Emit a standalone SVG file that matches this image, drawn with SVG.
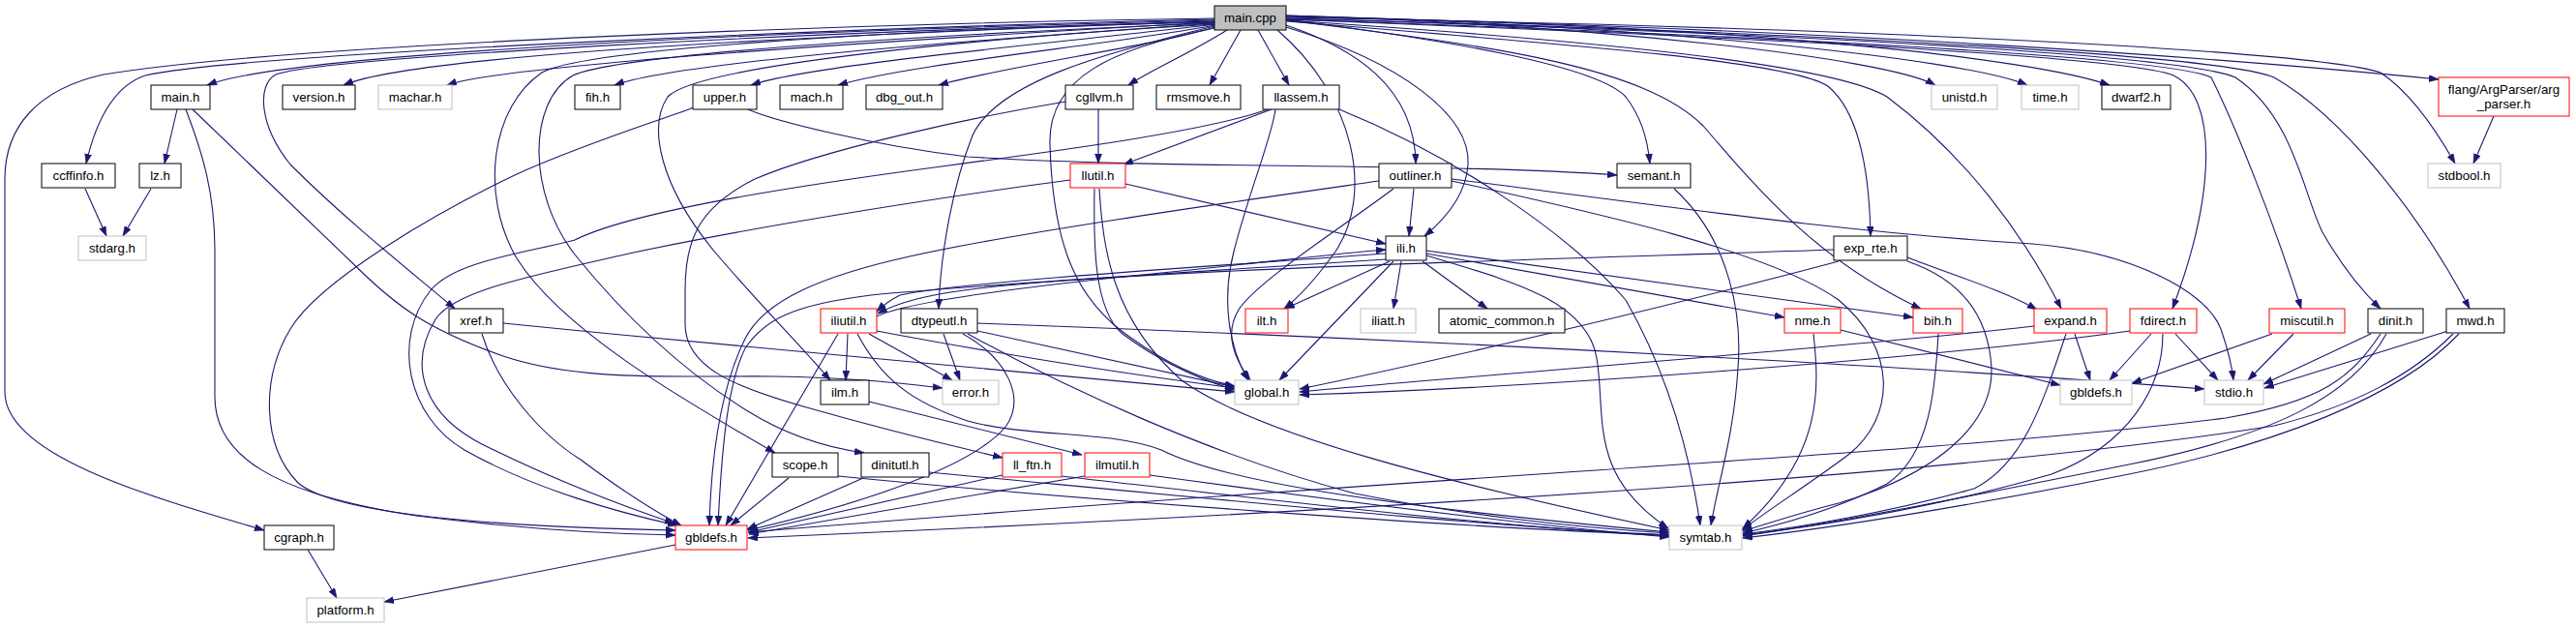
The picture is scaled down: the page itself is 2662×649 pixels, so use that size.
<svg xmlns="http://www.w3.org/2000/svg" width="2662" height="649" viewBox="0 0 2662 649">
<style>
.e{fill:none;stroke:#191970;stroke-width:1.1;marker-end:url(#ah)}
.n rect{fill:#ffffff;stroke:#000000;stroke-width:1}
.n.g rect{stroke:#bfbfbf}
.n.r rect{stroke:#ff0000}
.n.root rect{fill:#bfbfbf}
.n text{font-family:"Liberation Sans",Arial,sans-serif;font-size:13.3px;text-anchor:middle;fill:#000000}
</style>
<defs>
<marker id="ah" markerUnits="userSpaceOnUse" markerWidth="11" markerHeight="8" refX="10" refY="3.5" orient="auto">
<path d="M0,0 L10,3.5 L0,7 z" fill="#191970" stroke="#191970" stroke-width="0.6"/>
</marker>
</defs>
<rect x="0" y="0" width="2662" height="649" fill="#ffffff"/>
<g id="edges">
<path class="e" d="M1255,19 C900,24 300,45 107,77 C40,92 5,130 5,185 L5,405 C5,470 150,512 273,548"/>
<path class="e" d="M1255,20 C900,28 250,55 150,78 C115,90 98,130 89,169"/>
<path class="e" d="M1255,21 C800,32 300,55 214,88"/>
<path class="e" d="M1255,22 C800,34 330,60 285,77 C265,88 268,130 300,170 C360,230 430,285 470,319"/>
<path class="e" d="M1255,22 C850,36 430,56 355,88"/>
<path class="e" d="M1255,23 C950,40 520,66 462,88"/>
<path class="e" d="M1255,24 C1000,42 700,64 635,88"/>
<path class="e" d="M1256,25 C1100,44 840,66 776,88"/>
<path class="e" d="M1256,26 C1150,46 940,66 866,88"/>
<path class="e" d="M1256,28 C1190,48 1040,68 970,88"/>
<path class="e" d="M1268,31 C1230,55 1190,72 1166,88"/>
<path class="e" d="M1282,31 L1250,88"/>
<path class="e" d="M1300,31 L1332,88"/>
<path class="e" d="M1329,26 C1400,50 1462,90 1463,169"/>
<path class="e" d="M1329,28 C1450,65 1520,120 1517,170 C1515,200 1495,225 1472,244"/>
<path class="e" d="M1320,31 C1400,100 1420,200 1380,260 C1362,285 1345,305 1327,319"/>
<path class="e" d="M1255,29 C1150,50 1082,80 1085,150 C1088,250 1110,310 1170,350 C1205,375 1240,392 1276,399"/>
<path class="e" d="M1255,27 C1140,55 1030,85 1005,140 C985,190 972,260 970,319"/>
<path class="e" d="M1255,25 C1000,40 720,68 690,100 C670,130 680,190 740,262 C790,320 830,360 858,393"/>
<path class="e" d="M1255,23 C900,31 600,52 560,75 C508,110 495,200 534,267 C580,340 700,410 801,468"/>
<path class="e" d="M1255,24 C950,36 640,56 592,78 C545,105 545,200 594,263 C640,320 700,380 773,425 C810,448 850,462 893,468"/>
<path class="e" d="M1329,20 C1500,42 1650,68 1680,100 C1695,120 1702,140 1705,169"/>
<path class="e" d="M1329,21 C1550,48 1700,70 1760,130 C1820,200 1880,270 1985,319"/>
<path class="e" d="M1329,22 C1650,48 1860,65 1890,90 C1925,120 1932,190 1933,244"/>
<path class="e" d="M1329,21 C1700,45 1900,70 1950,100 C2030,160 2090,240 2130,319"/>
<path class="e" d="M1329,20 C1800,38 2200,58 2246,78 C2292,100 2290,200 2245,319"/>
<path class="e" d="M1329,20 C1800,36 2240,58 2285,80 C2310,130 2350,230 2378,319"/>
<path class="e" d="M1329,19 C1900,36 2260,58 2310,80 C2370,120 2380,200 2400,240 C2420,275 2440,300 2460,319"/>
<path class="e" d="M1329,19 C1900,34 2300,58 2350,80 C2420,120 2500,220 2552,319"/>
<path class="e" d="M1329,18 C2000,30 2400,55 2460,75 C2490,95 2515,130 2537,169"/>
<path class="e" d="M1329,17 C1900,30 2300,60 2520,82"/>
<path class="e" d="M1329,17 C1800,26 2100,60 2180,88"/>
<path class="e" d="M1329,16 C1700,26 2030,60 2095,88"/>
<path class="e" d="M1329,16 C1650,26 1950,60 2000,88"/>
<path class="e" d="M183,113 L170,169"/>
<path class="e" d="M192,113 C210,160 222,200 222,260 L222,410 C222,470 280,510 430,533 C550,548 640,552 698,553"/>
<path class="e" d="M199,113 L380,287 C410,315 440,340 520,368 C600,395 700,388 800,389 C880,390 930,396 974,401"/>
<path class="e" d="M88,195 L110,244"/>
<path class="e" d="M156,195 L127,244"/>
<path class="e" d="M717,111 C680,125 600,150 534,180 C450,220 330,290 300,340 C270,390 270,460 308,499 C350,535 550,545 698,548"/>
<path class="e" d="M773,113 C800,125 900,150 1000,162 C1200,175 1500,168 1671,181"/>
<path class="e" d="M1135,113 L1135,169"/>
<path class="e" d="M1101,105 C1000,122 850,155 780,185 C720,215 708,250 708,300 L708,335 C708,380 760,400 830,420 C900,440 980,460 1036,473"/>
<path class="e" d="M1314,113 L1161,170"/>
<path class="e" d="M1310,113 C1250,135 1100,155 973,172 C800,195 650,220 594,248 C540,262 470,270 445,300 C405,350 420,430 480,465 C550,505 640,530 700,543"/>
<path class="e" d="M1318,113 C1315,140 1290,200 1275,260 C1262,310 1270,360 1290,393"/>
<path class="e" d="M1384,113 C1500,160 1620,240 1680,310 C1720,380 1745,460 1757,543"/>
<path class="e" d="M1163,190 L1432,252"/>
<path class="e" d="M1106,186 C1000,200 800,230 650,262 C550,285 470,300 450,330 C420,380 440,430 500,460 C570,495 650,525 697,541"/>
<path class="e" d="M1131,195 C1130,250 1130,320 1160,345 C1200,375 1240,392 1276,403"/>
<path class="e" d="M1136,195 C1140,260 1150,330 1221,393 C1300,450 1500,500 1725,548"/>
<path class="e" d="M1461,195 L1456,244"/>
<path class="e" d="M1425,187 C1300,205 1050,240 940,265 C850,285 790,310 770,350 C745,400 735,470 733,543"/>
<path class="e" d="M1440,195 C1380,240 1300,290 1280,320 C1265,345 1275,370 1292,393"/>
<path class="e" d="M1500,187 C1650,220 1830,260 1900,310 C1960,360 1960,430 1910,470 C1870,500 1830,525 1800,548"/>
<path class="e" d="M1500,185 C1700,210 1900,240 2100,252 C2200,260 2280,300 2295,340 C2302,360 2306,375 2308,393"/>
<path class="e" d="M1730,195 C1790,250 1800,330 1796,380 C1792,450 1775,500 1768,543"/>
<path class="e" d="M1448,270 L1440,319"/>
<path class="e" d="M1470,270 L1537,319"/>
<path class="e" d="M1436,270 L1328,319"/>
<path class="e" d="M1440,270 L1322,393"/>
<path class="e" d="M1432,262 C1300,272 1000,290 930,305 C920,310 912,316 906,322"/>
<path class="e" d="M906,327 C940,310 1100,292 1200,282 C1300,272 1380,262 1432,258"/>
<path class="e" d="M1895,258 C1700,265 1300,275 1100,290 C990,298 940,306 907,324"/>
<path class="e" d="M1432,268 C1250,280 1000,295 900,305 C820,315 790,330 770,360 C750,400 745,480 742,543"/>
<path class="e" d="M1474,262 L1844,328"/>
<path class="e" d="M1474,259 L1977,328"/>
<path class="e" d="M1474,264 C1560,290 1640,310 1650,370 C1660,430 1640,490 1724,546"/>
<path class="e" d="M1900,270 C1750,310 1500,370 1343,402"/>
<path class="e" d="M1971,266 C2020,285 2070,300 2105,320"/>
<path class="e" d="M1971,270 C2030,290 2055,330 2058,380 C2060,440 2000,490 1900,520 C1860,530 1830,540 1801,549"/>
<path class="e" d="M1874,345 C1880,400 1885,470 1801,546"/>
<path class="e" d="M1902,341 L2129,398"/>
<path class="e" d="M2003,345 C2000,400 1995,470 1950,500 C1900,525 1850,540 1801,551"/>
<path class="e" d="M2144,345 L2160,393"/>
<path class="e" d="M2102,337 C1900,360 1500,390 1343,405"/>
<path class="e" d="M2135,345 C2110,420 2090,480 2040,505 C1950,530 1860,545 1801,552"/>
<path class="e" d="M2223,345 L2180,393"/>
<path class="e" d="M2248,345 L2292,393"/>
<path class="e" d="M2201,342 C2000,370 1600,400 1343,408"/>
<path class="e" d="M2235,345 C2235,400 2200,460 2120,490 C2000,525 1870,545 1801,553"/>
<path class="e" d="M2348,345 L2203,396"/>
<path class="e" d="M2370,345 L2323,393"/>
<path class="e" d="M2450,345 L2339,397"/>
<path class="e" d="M2530,342 L2340,401"/>
<path class="e" d="M2460,345 C2430,390 2400,415 2300,432 C2000,470 1500,490 773,550"/>
<path class="e" d="M2535,345 C2490,390 2430,420 2350,440 C2100,480 1600,520 773,556"/>
<path class="e" d="M2466,345 C2430,410 2350,450 2200,480 C2050,510 1900,540 1801,554"/>
<path class="e" d="M2541,345 C2480,410 2350,460 2200,490 C2050,520 1900,545 1801,556"/>
<path class="e" d="M2577,120 L2556,169"/>
<path class="e" d="M318,568 L348,618"/>
<path class="e" d="M698,563 L397,622"/>
<path class="e" d="M520,334 C800,362 1100,390 1276,405"/>
<path class="e" d="M498,345 C515,400 560,450 600,475 C640,505 670,525 704,543"/>
<path class="e" d="M876,345 L874,393"/>
<path class="e" d="M898,345 L984,393"/>
<path class="e" d="M906,342 C1000,360 1150,385 1276,401"/>
<path class="e" d="M866,345 L750,543"/>
<path class="e" d="M886,345 C910,390 940,415 1000,435 C1060,452 1150,445 1200,465 C1260,495 1400,520 1725,550"/>
<path class="e" d="M975,345 L992,393"/>
<path class="e" d="M1010,342 L1276,400"/>
<path class="e" d="M1010,334 C1500,352 2000,380 2278,402"/>
<path class="e" d="M995,345 C1040,370 1060,410 1040,440 C1000,490 850,530 773,548"/>
<path class="e" d="M1000,345 C1100,400 1250,470 1400,510 C1500,530 1620,545 1725,551"/>
<path class="e" d="M898,415 L1118,470"/>
<path class="e" d="M815,494 L755,543"/>
<path class="e" d="M866,492 C1100,515 1500,545 1725,553"/>
<path class="e" d="M892,494 L772,547"/>
<path class="e" d="M960,488 C1300,520 1550,545 1725,553"/>
<path class="e" d="M1036,491 L774,550"/>
<path class="e" d="M1096,492 C1300,515 1550,545 1725,554"/>
<path class="e" d="M1121,492 L774,552"/>
<path class="e" d="M1188,491 C1400,520 1600,545 1725,555"/>
</g>
<g id="main_cpp" class="n root"><rect x="1255" y="6" width="74" height="25"/><text x="1292" y="23">main.cpp</text></g>
<g id="main_h" class="n"><rect x="156" y="88" width="61" height="25"/><text x="186.5" y="105">main.h</text></g>
<g id="version_h" class="n"><rect x="292" y="88" width="75" height="25"/><text x="329.5" y="105">version.h</text></g>
<g id="machar_h" class="n g"><rect x="391" y="88" width="76" height="25"/><text x="429" y="105">machar.h</text></g>
<g id="fih_h" class="n"><rect x="594" y="88" width="47" height="25"/><text x="617.5" y="105">fih.h</text></g>
<g id="upper_h" class="n"><rect x="716" y="88" width="66" height="25"/><text x="749" y="105">upper.h</text></g>
<g id="mach_h" class="n"><rect x="806" y="88" width="65" height="25"/><text x="838.5" y="105">mach.h</text></g>
<g id="dbg_out_h" class="n"><rect x="895" y="88" width="79" height="25"/><text x="934.5" y="105">dbg_out.h</text></g>
<g id="cgllvm_h" class="n"><rect x="1101" y="88" width="70" height="25"/><text x="1136" y="105">cgllvm.h</text></g>
<g id="rmsmove_h" class="n"><rect x="1195" y="88" width="87" height="25"/><text x="1238.5" y="105">rmsmove.h</text></g>
<g id="llassem_h" class="n"><rect x="1305" y="88" width="79" height="25"/><text x="1344.5" y="105">llassem.h</text></g>
<g id="unistd_h" class="n g"><rect x="1996" y="88" width="68" height="25"/><text x="2030" y="105">unistd.h</text></g>
<g id="time_h" class="n g"><rect x="2089" y="88" width="59" height="25"/><text x="2118.5" y="105">time.h</text></g>
<g id="dwarf2_h" class="n"><rect x="2172" y="88" width="71" height="25"/><text x="2207.5" y="105">dwarf2.h</text></g>
<g id="arg_parser_h" class="n r"><rect x="2520" y="80" width="135" height="40"/><text x="2587.5" y="97">flang/ArgParser/arg</text><text x="2587.5" y="112">_parser.h</text></g>
<g id="ccffinfo_h" class="n"><rect x="43" y="169" width="76" height="25"/><text x="81" y="186">ccffinfo.h</text></g>
<g id="lz_h" class="n"><rect x="144" y="169" width="43" height="25"/><text x="165.5" y="186">lz.h</text></g>
<g id="llutil_h" class="n r"><rect x="1106" y="169" width="57" height="25"/><text x="1134.5" y="186">llutil.h</text></g>
<g id="outliner_h" class="n"><rect x="1425" y="169" width="75" height="25"/><text x="1462.5" y="186">outliner.h</text></g>
<g id="semant_h" class="n"><rect x="1671" y="169" width="76" height="25"/><text x="1709" y="186">semant.h</text></g>
<g id="stdbool_h" class="n g"><rect x="2509" y="169" width="75" height="25"/><text x="2546.5" y="186">stdbool.h</text></g>
<g id="stdarg_h" class="n g"><rect x="81" y="244" width="70" height="25"/><text x="116" y="261">stdarg.h</text></g>
<g id="ili_h" class="n"><rect x="1432" y="244" width="42" height="25"/><text x="1453" y="261">ili.h</text></g>
<g id="exp_rte_h" class="n"><rect x="1895" y="244" width="76" height="25"/><text x="1933" y="261">exp_rte.h</text></g>
<g id="xref_h" class="n"><rect x="464" y="319" width="56" height="25"/><text x="492" y="336">xref.h</text></g>
<g id="iliutil_h" class="n r"><rect x="848" y="319" width="58" height="25"/><text x="877" y="336">iliutil.h</text></g>
<g id="dtypeutl_h" class="n"><rect x="931" y="319" width="79" height="25"/><text x="970.5" y="336">dtypeutl.h</text></g>
<g id="ilt_h" class="n r"><rect x="1287" y="319" width="44" height="25"/><text x="1309" y="336">ilt.h</text></g>
<g id="iliatt_h" class="n g"><rect x="1406" y="319" width="57" height="25"/><text x="1434.5" y="336">iliatt.h</text></g>
<g id="atomic_common_h" class="n"><rect x="1487" y="319" width="130" height="25"/><text x="1552" y="336">atomic_common.h</text></g>
<g id="nme_h" class="n r"><rect x="1844" y="319" width="58" height="25"/><text x="1873" y="336">nme.h</text></g>
<g id="bih_h" class="n r"><rect x="1977" y="319" width="51" height="25"/><text x="2002.5" y="336">bih.h</text></g>
<g id="expand_h" class="n r"><rect x="2102" y="319" width="75" height="25"/><text x="2139.5" y="336">expand.h</text></g>
<g id="fdirect_h" class="n r"><rect x="2201" y="319" width="69" height="25"/><text x="2235.5" y="336">fdirect.h</text></g>
<g id="miscutil_h" class="n r"><rect x="2345" y="319" width="78" height="25"/><text x="2384" y="336">miscutil.h</text></g>
<g id="dinit_h" class="n"><rect x="2447" y="319" width="57" height="25"/><text x="2475.5" y="336">dinit.h</text></g>
<g id="mwd_h" class="n"><rect x="2528" y="319" width="60" height="25"/><text x="2558" y="336">mwd.h</text></g>
<g id="ilm_h" class="n"><rect x="848" y="393" width="50" height="25"/><text x="873" y="410">ilm.h</text></g>
<g id="error_h" class="n g"><rect x="974" y="393" width="58" height="25"/><text x="1003" y="410">error.h</text></g>
<g id="global_h" class="n g"><rect x="1276" y="393" width="66" height="25"/><text x="1309" y="410">global.h</text></g>
<g id="gbldefs_h_sys" class="n g"><rect x="2129" y="393" width="74" height="25"/><text x="2166" y="410">gbldefs.h</text></g>
<g id="stdio_h" class="n g"><rect x="2278" y="393" width="61" height="25"/><text x="2308.5" y="410">stdio.h</text></g>
<g id="scope_h" class="n"><rect x="798" y="468" width="68" height="25"/><text x="832" y="485">scope.h</text></g>
<g id="dinitutl_h" class="n"><rect x="890" y="468" width="70" height="25"/><text x="925" y="485">dinitutl.h</text></g>
<g id="ll_ftn_h" class="n r"><rect x="1036" y="468" width="61" height="25"/><text x="1066.5" y="485">ll_ftn.h</text></g>
<g id="ilmutil_h" class="n r"><rect x="1121" y="468" width="67" height="25"/><text x="1154.5" y="485">ilmutil.h</text></g>
<g id="cgraph_h" class="n"><rect x="273" y="543" width="72" height="25"/><text x="309" y="560">cgraph.h</text></g>
<g id="gbldefs_h" class="n r"><rect x="698" y="543" width="74" height="25"/><text x="735" y="560">gbldefs.h</text></g>
<g id="symtab_h" class="n g"><rect x="1725" y="543" width="75" height="25"/><text x="1762.5" y="560">symtab.h</text></g>
<g id="platform_h" class="n g"><rect x="317" y="618" width="80" height="25"/><text x="357" y="635">platform.h</text></g>
</svg>
